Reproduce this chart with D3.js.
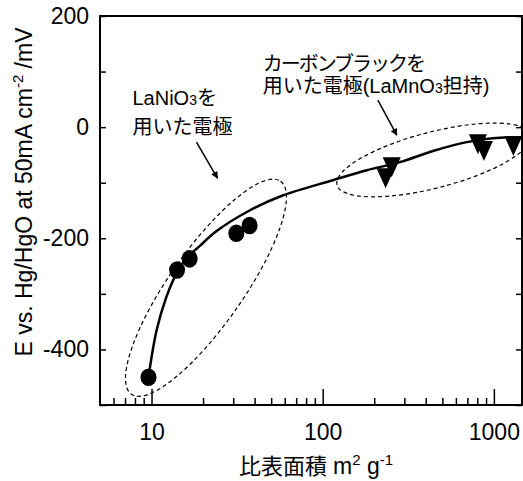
<!DOCTYPE html>
<html><head><meta charset="utf-8">
<script src="https://cdn.jsdelivr.net/npm/d3@7/dist/d3.min.js"></script>
<style>
html,body{margin:0;padding:0;background:#fff;}
svg{display:block;font-family:"Liberation Sans",Arial,"Noto Sans CJK JP",sans-serif;}
</style></head>
<body><svg id="c" width="523" height="481"></svg>
<script>
// ---- data ----
const laniX = [9.6, 14.1, 16.7, 31.3, 37.4];
const laniY = [-450, -257, -237, -191, -177];
const cbX = [233, 253, 807, 875, 1300];
const cbY = [-92, -72, -31, -43, -34];
const fitX = [9.6, 10.7, 12.2, 14.0, 16.0, 19.1, 24.0, 37.4, 58.3, 114.5, 181, 282, 440, 695, 986, 1419];
const fitY = [-450, -366, -306, -263, -236, -214, -187, -150, -123, -95.5, -77.5, -63, -43, -27, -20, -18];
const xMajor = [10, 100, 1000];
const xMinor = [6,7,8,9,20,30,40,50,60,70,80,90,200,300,400,500,600,700,800,900];
const yTicks = [-500,-400,-300,-200,-100,0,100,200];
const yLabels = [-400,-200,0,200];

// ---- layout ----
const L = 100, R = 522, T = 16, B = 405;
const svg = d3.select("#c");
const x = d3.scaleLog().domain([5, 1460]).range([L, R]);
const y = d3.scaleLinear().domain([-500, 200]).range([B, T]);

// axes
const gx = svg.append("g").attr("transform", `translate(0,${B})`);
gx.call(d3.axisBottom(x).tickValues(xMinor).tickSize(-7).tickSizeOuter(0).tickFormat(""));
gx.append("g").call(d3.axisBottom(x).tickValues(xMajor).tickSize(-16).tickSizeOuter(0).tickPadding(19).tickFormat(d3.format("d")));
gx.selectAll(".domain").remove();
gx.selectAll("text").attr("font-size", 23).attr("fill", "#000").attr("font-family", "Liberation Sans, Arial, sans-serif");
gx.selectAll("line").attr("stroke", "#000").attr("stroke-width", 1.5);

const gy = svg.append("g").attr("transform", `translate(${L},0)`);
gy.call(d3.axisLeft(y).tickValues(yTicks).tickSize(-6).tickSizeOuter(0).tickPadding(11)
  .tickFormat(d => yLabels.includes(d) ? d : ""));
gy.selectAll(".domain").remove();
gy.selectAll("text").attr("font-size", 23).attr("fill", "#000").attr("font-family", "Liberation Sans, Arial, sans-serif");
gy.selectAll("line").attr("stroke", "#000").attr("stroke-width", 1.5);

const gr = svg.append("g").attr("transform", `translate(${R},0)`);
gr.call(d3.axisRight(y).tickValues(yTicks).tickSize(-6).tickSizeOuter(0).tickFormat(""));
gr.selectAll(".domain").remove();
gr.selectAll("line").attr("stroke", "#000").attr("stroke-width", 1.5);

// frame
svg.append("rect").attr("x", L).attr("y", T).attr("width", R - L).attr("height", B - T)
  .attr("fill", "none").attr("stroke", "#000").attr("stroke-width", 2);

// dashed ellipses (annotation)
const ellipses = [
  {cx: 20.8, cy: -289, rx: 130, ry: 37, rot: -55},
  {cx: 446, cy: -59, rx: 100, ry: 28, rot: -14.5}
];
ellipses.forEach(e => {
  svg.append("ellipse")
    .attr("transform", `translate(${x(e.cx)},${y(e.cy)}) rotate(${e.rot})`)
    .attr("rx", e.rx).attr("ry", e.ry)
    .attr("fill", "none").attr("stroke", "#000").attr("stroke-width", 1.2)
    .attr("stroke-dasharray", "4,3");
});

// fitted curve
const fit = fitX.map((v, i) => [v, fitY[i]]);
svg.append("path").datum(fit)
  .attr("d", d3.line().x(d => x(d[0])).y(d => y(d[1])).curve(d3.curveCatmullRom.alpha(0.5)))
  .attr("fill", "none").attr("stroke", "#000").attr("stroke-width", 2.5);

// markers
svg.selectAll("ellipse.lani").data(laniX.map((v, i) => [v, laniY[i]])).enter()
  .append("ellipse").attr("class", "lani")
  .attr("cx", d => x(d[0])).attr("cy", d => y(d[1])).attr("rx", 8).attr("ry", 8.8).attr("fill", "#000");

svg.selectAll("path.cb").data(cbX.map((v, i) => [v, cbY[i]])).enter()
  .append("path").attr("class", "cb")
  .attr("transform", d => `translate(${x(d[0])},${y(d[1])})`)
  .attr("d", "M-9,-10L9,-10L0,10Z").attr("fill", "#000");

// arrows
const defs = svg.append("defs");
defs.append("marker").attr("id", "ah").attr("viewBox", "0 0 10 10").attr("refX", 9).attr("refY", 5)
  .attr("markerWidth", 9).attr("markerHeight", 7).attr("markerUnits", "userSpaceOnUse").attr("orient", "auto")
  .append("path").attr("d", "M0,0L10,5L0,10Z").attr("fill", "#000");
const arrows = [
  {x1: 18.3, y1: -27, x2: 24.3, y2: -92},
  {x1: 210, y1: 48.6, x2: 271, y2: -14.4}
];
arrows.forEach(a => {
  svg.append("line").attr("x1", x(a.x1)).attr("y1", y(a.y1)).attr("x2", x(a.x2)).attr("y2", y(a.y2))
    .attr("stroke", "#000").attr("stroke-width", 1.5).attr("marker-end", "url(#ah)");
});

// annotation texts
const t1 = svg.append("text").attr("x", x(7.74)).attr("y", y(39.6)).attr("font-size", 20);
t1.append("tspan").text("LaNiO");
t1.append("tspan").attr("font-size", 14).text("3");
t1.append("tspan").text("を");
svg.append("text").attr("x", x(7.74)).attr("y", y(-12.6)).attr("font-size", 20).text("用いた電極");

svg.append("text").attr("x", x(44.6)).attr("y", y(101)).attr("font-size", 20)
  .attr("letter-spacing", -2).text("カーボンブラックを");
const t2 = svg.append("text").attr("x", x(44.6)).attr("y", y(61)).attr("font-size", 20);
t2.append("tspan").text("用いた電極(LaMnO");
t2.append("tspan").attr("font-size", 14).text("3");
t2.append("tspan").text("担持)");

// axis titles
const yl = svg.append("text").attr("transform", "translate(32,192) rotate(-90)")
  .attr("text-anchor", "middle").attr("font-size", 23);
yl.append("tspan").text("E vs. Hg/HgO at 50mA cm");
yl.append("tspan").attr("font-size", 15).attr("dy", -9).text("-2");
yl.append("tspan").attr("dy", 9).text(" /mV");

const xl = svg.append("text").attr("x", 316).attr("y", 474).attr("text-anchor", "middle").attr("font-size", 23);
xl.append("tspan").attr("font-size", 22).text("比表面積 ");
xl.append("tspan").text("m");
xl.append("tspan").attr("font-size", 15).attr("dy", -9).text("2");
xl.append("tspan").attr("dy", 9).text(" g");
xl.append("tspan").attr("font-size", 15).attr("dy", -9).text("-1");
</script></body></html>
